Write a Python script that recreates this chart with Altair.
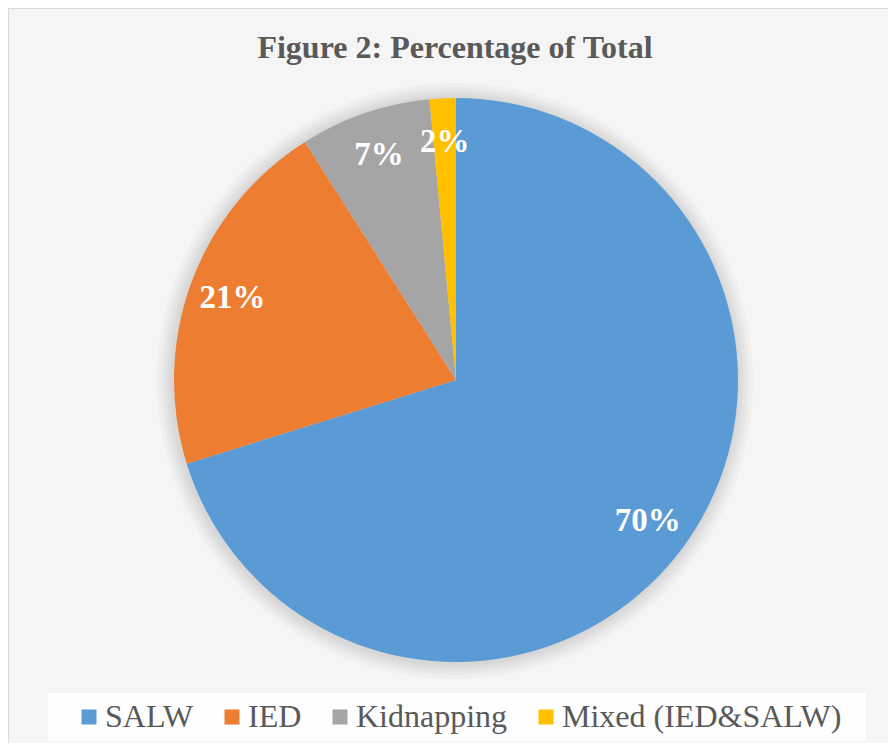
import altair as alt
import pandas as pd

# ---- data ----
categories = ["SALW", "IED", "Kidnapping", "Mixed (IED&SALW)"]
shares = [70.2, 20.8, 7.5, 1.5]
labels = ["70%", "21%", "7%", "2%"]
colors = ["#5B9BD5", "#ED7D31", "#A5A5A5", "#FFC000"]
title_text = "Figure 2: Percentage of Total"

df = pd.DataFrame({
    "category": categories,
    "share": shares,
    "label": labels,
    "order": list(range(len(categories))),
})

W, H = 880, 735
CX, CY, R = 448, 372, 282
SERIF = "Liberation Serif"

one = alt.Data(values=[{"k": 1}])

# soft glow around the pie
glow = [
    alt.Chart(one).mark_arc(radius=R + k, theta=0, theta2=6.2832,
                            color="black", opacity=0.022, stroke=None)
    .encode(x=alt.value(CX - 1), y=alt.value(CY + 1))
    for k in (16, 12, 9, 6, 3)
]

base = alt.Chart(df).encode(
    theta=alt.Theta("share:Q", stack=True),
    order=alt.Order("order:Q", sort="ascending"),
    x=alt.value(CX),
    y=alt.value(CY),
)

pie = base.mark_arc(radius=R, stroke=None).encode(
    color=alt.Color(
        "category:N",
        scale=alt.Scale(domain=categories, range=colors),
        legend=alt.Legend(
            orient="none", legendX=65, legendY=693, direction="horizontal",
            title=None, symbolType="square", symbolSize=225,
            symbolStrokeWidth=0, symbolOpacity=1,
            labelFont=SERIF, labelFontSize=32, labelColor="#595959",
            labelOffset=0, columnPadding=22, padding=0, labelLimit=500,
        ),
    )
)

text = base.mark_text(radius=238, font=SERIF, fontSize=33, fontWeight="bold",
                      color="white", align="center", baseline="middle").encode(
    text="label:N"
)

legend_box = alt.Chart(one).mark_rect(color="white", opacity=0.85).encode(
    x=alt.value(40), x2=alt.value(858), y=alt.value(685), y2=alt.value(733)
)

title = alt.Chart(one).mark_text(font=SERIF, fontSize=32, fontWeight="bold",
                                 color="#595959", align="center",
                                 baseline="alphabetic").encode(
    x=alt.value(447), y=alt.value(50), text=alt.value(title_text)
)

chart = alt.layer(*glow, pie, text, legend_box, title).properties(
    width=W, height=H,
    autosize=alt.AutoSizeParams(type="none"),
    padding=0,
    background="white",
).configure_view(fill="#f5f5f5", stroke="#d9d9d9", strokeWidth=1)

chart.save("out.html", embed_options={"renderer": "svg", "actions": False})
